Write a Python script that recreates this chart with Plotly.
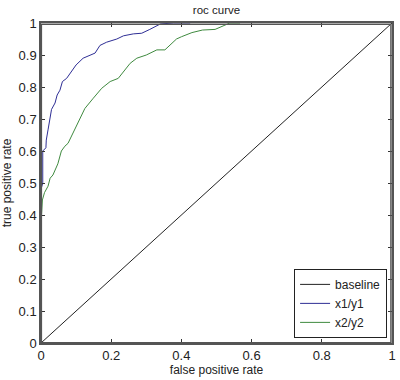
import plotly.graph_objects as go

baseline_x = [0, 1]
baseline_y = [0, 1]

x1_fpr = [0, 0, 0.005, 0.005, 0.014, 0.015, 0.02, 0.024, 0.03, 0.04, 0.046, 0.054,
          0.061, 0.073, 0.087, 0.10, 0.12, 0.14, 0.154, 0.168, 0.187, 0.216, 0.235,
          0.263, 0.287, 0.31, 0.34, 0.377, 0.425]
x1_tpr = [0, 0.48, 0.50, 0.60, 0.61, 0.634, 0.666, 0.69, 0.73, 0.75, 0.775, 0.79,
          0.817, 0.827, 0.848, 0.869, 0.89, 0.90, 0.906, 0.93, 0.94, 0.95, 0.96,
          0.966, 0.968, 0.98, 0.997, 1.0, 1.0]

x2_fpr = [0, 0, 0.004, 0.01, 0.02, 0.026, 0.034, 0.048, 0.058, 0.068, 0.077, 0.09,
          0.11, 0.125, 0.149, 0.173, 0.197, 0.22, 0.254, 0.273, 0.30, 0.33, 0.353,
          0.386, 0.40, 0.43, 0.46, 0.496, 0.538, 0.567]
x2_tpr = [0, 0.37, 0.447, 0.47, 0.49, 0.515, 0.525, 0.56, 0.60, 0.615, 0.624, 0.655,
          0.70, 0.733, 0.765, 0.796, 0.817, 0.827, 0.874, 0.89, 0.90, 0.916, 0.916,
          0.95, 0.957, 0.97, 0.978, 0.98, 1.0, 1.0]

x_ticks = [0, 0.2, 0.4, 0.6, 0.8, 1]
x_ticklabels = ["0", "0.2", "0.4", "0.6", "0.8", "1"]
y_ticks = [0, 0.1, 0.2, 0.3, 0.4, 0.5, 0.6, 0.7, 0.8, 0.9, 1]
y_ticklabels = ["0", "0.1", "0.2", "0.3", "0.4", "0.5", "0.6", "0.7", "0.8", "0.9", "1"]

FONT = "Liberation Sans, Arial, sans-serif"
LINE = "#555555"

fig = go.Figure()
fig.add_trace(go.Scatter(x=baseline_x, y=baseline_y, mode="lines", name="baseline",
                         line=dict(color="#222222", width=1)))
fig.add_trace(go.Scatter(x=x1_fpr, y=x1_tpr, mode="lines", name="x1/y1",
                         line=dict(color="#2e2e95", width=1)))
fig.add_trace(go.Scatter(x=x2_fpr, y=x2_tpr, mode="lines", name="x2/y2",
                         line=dict(color="#3f8a3f", width=1)))

axis_common = dict(showgrid=False, zeroline=False, showline=True, linecolor=LINE,
                   linewidth=1.5, mirror="allticks", ticks="inside", ticklen=4,
                   tickcolor="#333333", tickwidth=1,
                   tickfont=dict(family=FONT, size=13, color="#222222"))

fig.update_layout(
    xaxis=dict(range=[0, 1], tickvals=x_ticks, ticktext=x_ticklabels,
               title=dict(text="false positive rate",
                          font=dict(family=FONT, size=12, color="#222222"), standoff=2),
               **axis_common),
    yaxis=dict(range=[0, 1], tickvals=y_ticks, ticktext=y_ticklabels,
               title=dict(text="true positive rate",
                          font=dict(family=FONT, size=12, color="#222222"), standoff=4),
               **axis_common),
)

# axes frame (MATLAB-style box), drawn just inside the plot edges
fig.add_shape(type="rect", xref="paper", yref="paper", x0=0.001, y0=0.001,
              x1=0.997, y1=0.996, line=dict(color=LINE, width=1.5), layer="above")

fig.update_layout(
    width=400, height=380,
    margin=dict(l=41, r=8, t=23, b=37, autoexpand=False),
    paper_bgcolor="white", plot_bgcolor="white",
    title=dict(text="roc curve", x=(41 + 392) / 2 / 400, xanchor="center",
               y=1 - 10 / 380, yanchor="middle",
               font=dict(family=FONT, size=11.5, color="#222222")),
    font=dict(family=FONT, size=12, color="#222222"),
    legend=dict(x=0.986, xanchor="right", y=0.016, yanchor="bottom",
                bordercolor="#222222", borderwidth=1, bgcolor="white",
                font=dict(family=FONT, size=12, color="#222222"),
                itemwidth=30, tracegroupgap=0),
    showlegend=True,
)

fig.write_html("out.html", config={"displayModeBar": False},
               post_script="document.body.style.margin='0';")
